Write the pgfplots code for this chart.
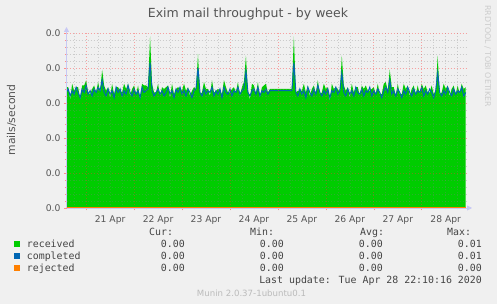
\documentclass[border=0pt]{standalone}
\usepackage{fontspec}
\setmainfont{DejaVu Sans}
\newfontfamily\monofont{DejaVu Sans Mono}
\usepackage{pgfplots}
\pgfplotsset{compat=1.18}
\usepackage{pgfplotstable}
\usetikzlibrary{arrows.meta}
\definecolor{bg}{HTML}{F0F0F0}
\definecolor{recgreen}{HTML}{00CC00}
\definecolor{comblue}{HTML}{0066B3}
\definecolor{rejorange}{HTML}{FF8000}
\definecolor{axisc}{HTML}{C8C8F4}
\definecolor{txt}{HTML}{555555}
\definecolor{legtxt}{HTML}{444444}
\definecolor{faint}{HTML}{BBBBBB}
\definecolor{fainter}{HTML}{CCCCCC}

\pgfplotstableread{
h rec com
14 0.0069 0.0066
15 0.0069 0.0068
16 0.0062 0.0064
17 0.0071 0.0067
18 0.0067 0.0065
19 0.0069 0.0069
20 0.0069 0.0066
21 0.0062 0.0063
22 0.0070 0.0068
23 0.0070 0.0066
24 0.0073 0.0070
25 0.0066 0.0065
26 0.0065 0.0067
27 0.0068 0.0064
28 0.0070 0.0068
29 0.0066 0.0066
30 0.0072 0.0069
31 0.0066 0.0067
32 0.0079 0.0073
33 0.0070 0.0066
34 0.0067 0.0064
35 0.0069 0.0068
36 0.0063 0.0065
37 0.0071 0.0067
38 0.0065 0.0063
39 0.0069 0.0069
40 0.0069 0.0066
41 0.0067 0.0068
42 0.0066 0.0064
43 0.0071 0.0067
44 0.0068 0.0065
45 0.0071 0.0070
46 0.0064 0.0066
47 0.0068 0.0064
48 0.0070 0.0068
49 0.0065 0.0065
50 0.0070 0.0067
51 0.0062 0.0063
52 0.0071 0.0069
53 0.0070 0.0066
54 0.0070 0.0067
55 0.0069 0.0068
56 0.0098 0.0083
57 0.0071 0.0067
58 0.0066 0.0064
59 0.0066 0.0066
60 0.0071 0.0068
61 0.0064 0.0065
62 0.0069 0.0067
63 0.0068 0.0064
64 0.0069 0.0066
65 0.0070 0.0069
66 0.0063 0.0065
67 0.0071 0.0067
68 0.0065 0.0063
69 0.0068 0.0068
70 0.0069 0.0066
71 0.0068 0.0069
72 0.0067 0.0065
73 0.0071 0.0067
74 0.0067 0.0064
75 0.0069 0.0068
76 0.0064 0.0066
77 0.0067 0.0063
78 0.0069 0.0067
79 0.0068 0.0068
80 0.0088 0.0080
81 0.0065 0.0066
82 0.0066 0.0064
83 0.0072 0.0068
84 0.0068 0.0065
85 0.0068 0.0067
86 0.0064 0.0066
87 0.0073 0.0069
88 0.0066 0.0064
89 0.0067 0.0067
90 0.0068 0.0065
91 0.0067 0.0068
92 0.0065 0.0063
93 0.0073 0.0069
94 0.0069 0.0066
95 0.0066 0.0065
96 0.0066 0.0068
97 0.0068 0.0064
98 0.0069 0.0067
99 0.0066 0.0066
100 0.0072 0.0069
101 0.0064 0.0065
102 0.0069 0.0067
103 0.0072 0.0068
104 0.0087 0.0078
105 0.0067 0.0066
106 0.0062 0.0064
107 0.0071 0.0067
108 0.0070 0.0068
109 0.0065 0.0065
110 0.0072 0.0069
111 0.0063 0.0064
112 0.0069 0.0067
113 0.0070 0.0066
114 0.0071 0.0068
115 0.0066 0.0065
116 0.0068 0.0067
117 0.0068 0.0067
118 0.0068 0.0067
119 0.0068 0.0067
120 0.0068 0.0067
121 0.0068 0.0067
122 0.0068 0.0067
123 0.0068 0.0067
124 0.0068 0.0067
125 0.0068 0.0067
126 0.0068 0.0067
127 0.0068 0.0067
128 0.0098 0.0083
129 0.0066 0.0066
130 0.0067 0.0064
131 0.0067 0.0068
132 0.0067 0.0065
133 0.0071 0.0067
134 0.0066 0.0063
135 0.0070 0.0069
136 0.0064 0.0066
137 0.0068 0.0064
138 0.0070 0.0068
139 0.0065 0.0065
140 0.0073 0.0070
141 0.0065 0.0066
142 0.0066 0.0064
143 0.0071 0.0067
144 0.0068 0.0065
145 0.0069 0.0068
146 0.0061 0.0063
147 0.0071 0.0067
148 0.0068 0.0066
149 0.0069 0.0069
150 0.0068 0.0065
151 0.0066 0.0067
152 0.0087 0.0077
153 0.0070 0.0066
154 0.0067 0.0064
155 0.0069 0.0068
156 0.0063 0.0065
157 0.0071 0.0067
158 0.0066 0.0064
159 0.0069 0.0069
160 0.0069 0.0066
161 0.0064 0.0065
162 0.0070 0.0068
163 0.0068 0.0064
164 0.0070 0.0067
165 0.0067 0.0066
166 0.0067 0.0069
167 0.0068 0.0064
168 0.0069 0.0067
169 0.0065 0.0065
170 0.0071 0.0068
171 0.0065 0.0066
172 0.0065 0.0063
173 0.0071 0.0067
174 0.0072 0.0069
175 0.0067 0.0066
176 0.0079 0.0073
177 0.0069 0.0065
178 0.0069 0.0067
179 0.0064 0.0064
180 0.0071 0.0068
181 0.0065 0.0066
182 0.0065 0.0063
183 0.0071 0.0067
184 0.0068 0.0065
185 0.0070 0.0069
186 0.0064 0.0066
187 0.0068 0.0064
188 0.0070 0.0068
189 0.0065 0.0065
190 0.0070 0.0067
191 0.0065 0.0066
192 0.0071 0.0069
193 0.0068 0.0064
194 0.0070 0.0067
195 0.0066 0.0065
196 0.0066 0.0068
197 0.0070 0.0066
198 0.0065 0.0063
199 0.0067 0.0067
200 0.0087 0.0077
201 0.0065 0.0066
202 0.0066 0.0064
203 0.0071 0.0067
204 0.0068 0.0065
205 0.0070 0.0069
206 0.0064 0.0066
207 0.0068 0.0064
208 0.0070 0.0068
209 0.0065 0.0065
210 0.0070 0.0067
211 0.0065 0.0066
212 0.0071 0.0069
213 0.0068 0.0064
214 0.0069 0.0066
}\datatable

\begin{document}
\begin{tikzpicture}
\fill[bg] (0pt,0pt) rectangle (497pt,304pt);
\begin{axis}[
  at={(66.5pt,96pt)}, anchor=south west,
  scale only axis, width=399.5pt, height=175pt,
  xmin=14.17, xmax=214.17, ymin=0, ymax=0.01,
  set layers=axis on top, axis on top,
  axis background/.style={fill=white},
  axis lines=left,
  axis line style={draw=axisc, line width=0.8pt},
  x axis line style={-{Triangle[length=5pt,width=5pt]}, shorten >=-6pt},
  y axis line style={-{Triangle[length=5pt,width=5pt]}, shorten >=-6pt},
  xtick={24,48,72,96,120,144,168,192},
  xticklabels={21 Apr,22 Apr,23 Apr,24 Apr,25 Apr,26 Apr,27 Apr,28 Apr},
  xticklabel style={xshift=24pt, yshift=-1.5pt},
  minor xtick={18,30,36,42,54,60,66,78,84,90,102,108,114,126,132,138,150,156,162,174,180,186,198,204,210},
  ytick={0,0.002,0.004,0.006,0.008,0.01},
  minor y tick num=4,
  scaled y ticks=false,
  /pgf/number format/assume math mode=true,
  yticklabel style={/pgf/number format/.cd, fixed, fixed zerofill, precision=1},
  ticklabel style={font=\fontsize{9.2}{11}\selectfont, text=txt},
  tick align=outside,
  major tick length=2.5pt, minor tick length=1.5pt,
  every tick/.style={draw=red!45, line width=0.5pt},
  grid=both,
  major grid style={draw=red!80, opacity=0.42, dash pattern=on 1pt off 2pt, line width=0.6pt},
  minor grid style={draw=gray, opacity=0.33, dash pattern=on 1pt off 2pt, line width=0.6pt},
]
\addplot[fill=recgreen, draw=none] table[x=h, y=rec] {\datatable} \closedcycle;
\addplot[color=comblue, line width=1pt] table[x=h, y=com] {\datatable};
\addplot[color=rejorange, line width=1pt, on layer=axis foreground] coordinates {(14.17,0) (214.17,0)};
\end{axis}

% title and side texts
\node[anchor=base, text=txt, font=\fontsize{12.5}{14}\selectfont] at (248pt,286pt) {Exim mail throughput - by week};
\node[anchor=base, rotate=90, text=txt, font=\fontsize{10.8}{12}\selectfont] at (15pt,184pt) {mails/second};
\node[anchor=base, rotate=-90, text=fainter, font=\fontsize{7.9}{9}\selectfont] at (485pt,248pt) {RRDTOOL / TOBI OETIKER};

% legend
\begin{scope}[every node/.style={text=legtxt, font=\monofont\fontsize{9.9}{11}\selectfont, inner sep=0pt}]
\node[anchor=base west] at (149pt,68pt) {Cur:};
\node[anchor=base west] at (250pt,68pt) {Min:};
\node[anchor=base west] at (360pt,68pt) {Avg:};
\node[anchor=base west] at (447pt,68pt) {Max:};

\fill[recgreen] (14pt,56.5pt) rectangle (20pt,62.5pt);
\node[anchor=base west] at (26.7pt,56pt) {received};
\node[anchor=base east] at (185pt,56pt) {0.00};
\node[anchor=base east] at (284pt,56pt) {0.00};
\node[anchor=base east] at (383pt,56pt) {0.00};
\node[anchor=base east] at (482pt,56pt) {0.01};

\fill[comblue] (14pt,44.5pt) rectangle (20pt,50.5pt);
\node[anchor=base west] at (26.7pt,44pt) {completed};
\node[anchor=base east] at (185pt,44pt) {0.00};
\node[anchor=base east] at (284pt,44pt) {0.00};
\node[anchor=base east] at (383pt,44pt) {0.00};
\node[anchor=base east] at (482pt,44pt) {0.01};

\fill[rejorange] (14pt,32.5pt) rectangle (20pt,38.5pt);
\node[anchor=base west] at (26.7pt,32pt) {rejected};
\node[anchor=base east] at (185pt,32pt) {0.00};
\node[anchor=base east] at (284pt,32pt) {0.00};
\node[anchor=base east] at (383pt,32pt) {0.00};
\node[anchor=base east] at (482pt,32pt) {0.00};

\node[anchor=base east] at (482pt,20pt) {Last update: Tue Apr 28 22:10:16 2020};
\end{scope}
\node[anchor=base, text=faint, font=\fontsize{8.6}{10}\selectfont, inner sep=0pt] at (251.5pt,7pt) {Munin 2.0.37-1ubuntu0.1};

\pgfresetboundingbox
\path[use as bounding box] (0pt,0pt) rectangle (497pt,304pt);
\end{tikzpicture}
\end{document}
